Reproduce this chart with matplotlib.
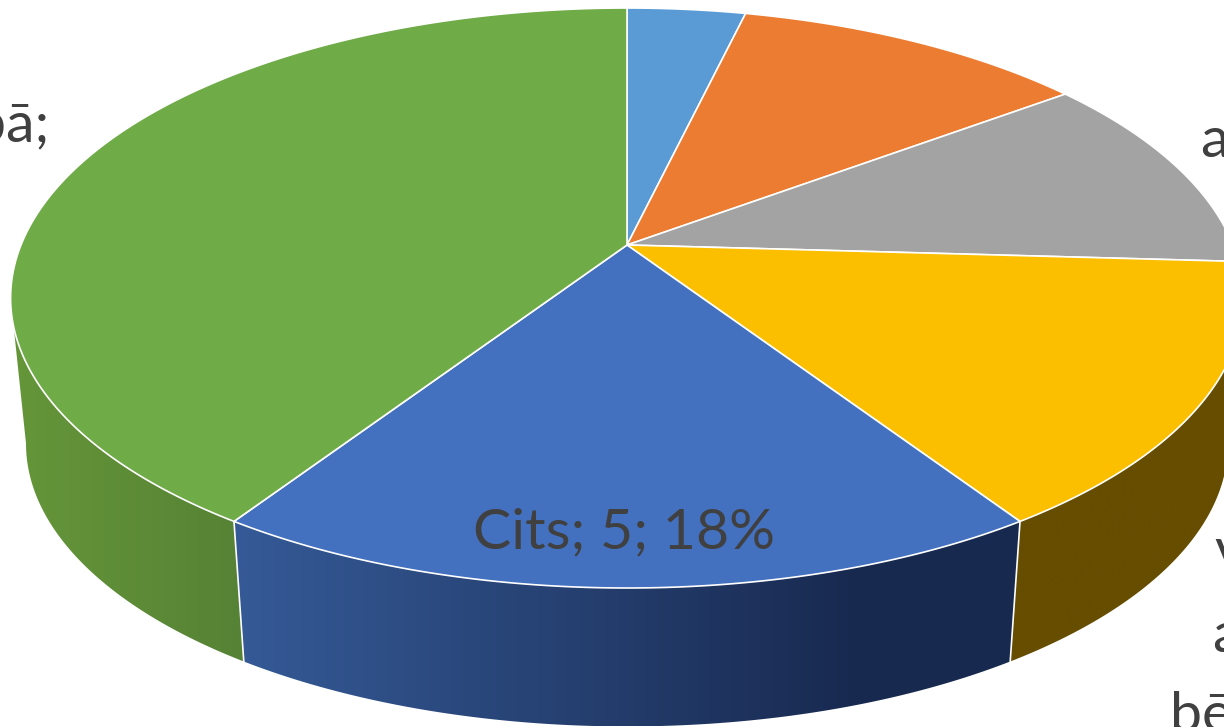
import numpy as np
import matplotlib
matplotlib.use('Agg')
import matplotlib.pyplot as plt
from matplotlib.patches import Polygon
from matplotlib.colors import LinearSegmentedColormap

plt.rcParams['font.family'] = ['Lato', 'DejaVu Sans']

# values per slice, clockwise from 12 o'clock
values = [1, 3, 3, 4, 5, 11]
top_colors = ['#5b9bd5', '#eb7c31', '#a3a3a3', '#fbbf00', '#4371c0', '#6fab47']
side_left = ['#375d80', '#8e4b1d', '#636363', '#664d00', '#355a97', '#659639']
side_right = ['#375d80', '#8e4b1d', '#636363', '#664d00', '#18294f', '#568235']

# pie geometry in pixels, top face is a perspective view of a circle
W, H = 1224, 727
cx, cy = 627, 245
rx, ry, k = 606, 280.3, 0.1828
bottom_scale, bottom_y = 0.975, 392
text_color = '#404040'
font_size = 41.2


def project(angle, scale=1.0, y0=cy):
    a = np.radians(angle)
    u = np.sin(a)
    v = -np.cos(a)
    d = 1 - k * v
    return cx + scale * rx * u / d, y0 + scale * ry * v / d


fig = plt.figure(figsize=(W / 100, H / 100), dpi=100)
ax = fig.add_axes([0, 0, 1, 1])

edges = np.concatenate([[0], np.cumsum(values)]) * 360 / sum(values)

# walls first, only the part between the two silhouette tangents
for i in range(len(values)):
    a0 = max(edges[i], 100.5)
    a1 = min(edges[i + 1], 259.5)
    if a1 <= a0:
        continue
    t = np.linspace(a0, a1, 200)
    x1, y1 = project(t)
    x2, y2 = project(t, scale=bottom_scale, y0=bottom_y)
    pts = np.column_stack([np.r_[x1, x2[::-1]], np.r_[y1, y2[::-1]]])
    poly = Polygon(pts, closed=True, fc='none', ec='none')
    ax.add_patch(poly)
    if i == 4:
        cmap = LinearSegmentedColormap.from_list('w', [(0, side_left[i]), (0.8, side_right[i]), (1, side_right[i])])
    else:
        cmap = LinearSegmentedColormap.from_list('w', [side_left[i], side_right[i]])
    im = ax.imshow(np.linspace(0, 1, 256)[None, :], cmap=cmap, aspect='auto',
                   extent=[pts[:, 0].min(), pts[:, 0].max(), pts[:, 1].max(), pts[:, 1].min()], zorder=1)
    im.set_clip_path(poly)

# white seams between the walls
for e in edges[1:]:
    if 100.5 < e < 259.5:
        x1, y1 = project(e)
        x2, y2 = project(e, scale=bottom_scale, y0=bottom_y)
        ax.plot([x1, x2], [y1, y2], color='white', lw=1.2, zorder=2)

# top face
for i in range(len(values)):
    t = np.linspace(edges[i], edges[i + 1], 200)
    x, y = project(t)
    pts = np.column_stack([np.r_[cx, x], np.r_[cy, y]])
    ax.add_patch(Polygon(pts, closed=True, fc=top_colors[i], ec='white', lw=1.2, zorder=3))

# labels, the outer ones run off the canvas in the original
ax.text(624, 548, 'Cits; 5; 18%', color=text_color, fontsize=font_size, ha='center', va='baseline', zorder=5)
ax.text(49, 141, 'bā;', color=text_color, fontsize=font_size, ha='right', va='baseline', zorder=5)
ax.text(1200, 157, 'a', color=text_color, fontsize=font_size, ha='left', va='baseline', zorder=5)
ax.text(1214, 568, 'v', color=text_color, fontsize=font_size, ha='left', va='baseline', zorder=5)
ax.text(1212, 652, 'a', color=text_color, fontsize=font_size, ha='left', va='baseline', zorder=5)
ax.text(1170, 732, 'bē', color=text_color, fontsize=font_size, ha='left', va='baseline', zorder=5)

ax.set_xlim(0, W)
ax.set_ylim(H, 0)
ax.axis('off')

fig.savefig('out.png', dpi=100)
